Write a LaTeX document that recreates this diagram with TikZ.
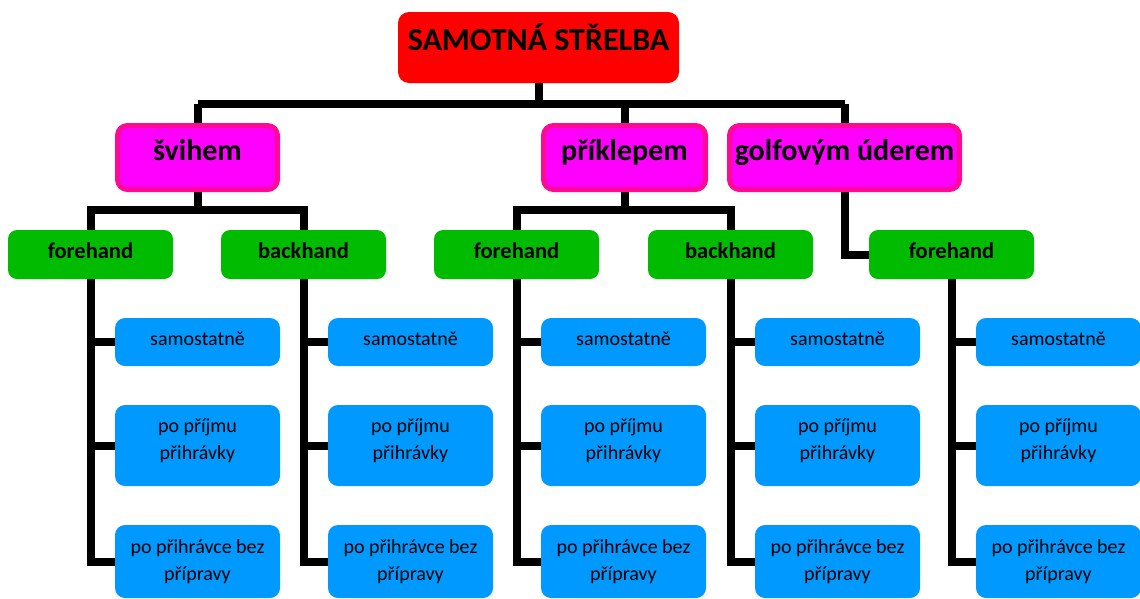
\documentclass[tikz,border=0pt]{standalone}
\usepackage{fontspec}
\setmainfont{Carlito}
\usetikzlibrary{backgrounds}
\definecolor{cred}{RGB}{255,0,0}
\definecolor{cmag}{RGB}{255,0,255}
\definecolor{cmagb}{RGB}{255,10,150}
\definecolor{cgreen}{RGB}{0,187,0}
\definecolor{cblue}{RGB}{0,153,255}
\newcommand\twol[3]{\raisebox{#1}[0pt][0pt]{\begin{tabular}{@{}c@{}}#2\\#3\end{tabular}}}
\begin{document}
\begin{tikzpicture}[x=1pt,y=-1pt,
  titlebox/.style={fill=cred,rounded corners=11pt,minimum width=281pt,minimum height=71pt,inner sep=0pt,text height=15pt,text depth=10pt,font=\fontsize{32}{36}\selectfont\bfseries},
  magbox/.style={fill=cmag,draw=cmagb,line width=5pt,rounded corners=10pt,minimum height=64pt,inner sep=0pt,text height=15pt,text depth=10pt,font=\fontsize{30}{34}\selectfont\bfseries},
  greenbox/.style={fill=cgreen,rounded corners=9pt,minimum width=165pt,minimum height=49pt,inner sep=0pt,text height=14pt,text depth=7pt,font=\fontsize{22.5}{26}\selectfont\bfseries},
  bluebox/.style={fill=cblue,rounded corners=10pt,minimum width=165pt,inner sep=0pt,font=\fontsize{20}{27}\selectfont},
  conn/.style={line width=8pt,draw=black,line join=miter}
]
\useasboundingbox (0,0) rectangle (1140,598);
\node[titlebox] (t) at (538.5,47.5) {SAMOTNÁ STŘELBA};
\node[magbox,minimum width=160pt] (m1) at (197.5,157.5) {švihem};
\node[magbox,minimum width=162pt] (m2) at (624.5,157.5) {příklepem};
\node[magbox,minimum width=230pt] (m3) at (844.5,157.5) {golfovým úderem};
\coordinate (h1) at (0,103.5);
\coordinate (h2) at (0,210);
\foreach \i/\x/\lab in {1/90.5/forehand,2/303.5/backhand,3/516.5/forehand,4/730.5/backhand,5/951.5/forehand}{
  \node[greenbox] (g\i) at (\x,254.5) {\lab};
  \node[bluebox,minimum height=48pt,text height=14pt,text depth=8pt] (b\i a) at (\x+107,342) {samostatně};
  \node[bluebox,minimum height=81pt] (b\i b) at (\x+107,445.5) {\twol{0pt}{po příjmu}{přihrávky}};
  \node[bluebox,minimum height=73pt] (b\i c) at (\x+107,561.5) {\twol{-5pt}{po přihrávce bez}{přípravy}};
}
\begin{scope}[on background layer]
\draw[conn] (t.south) -- (t.south |- h1);
\draw[conn] (m1.north |- h1) -- (m3.north |- h1);
\draw[conn] (m1.north |- h1) -- (m1.north);
\draw[conn] (m2.north |- h1) -- (m2.north);
\draw[conn] (m3.north |- h1) -- (m3.north);
\draw[conn] (m1.south) -- (m1.south |- h2);
\draw[conn] (g1.north) -- (g1.north |- h2) -- (g2.north |- h2) -- (g2.north);
\draw[conn] (m2.south) -- (m2.south |- h2);
\draw[conn] (g3.north) -- (g3.north |- h2) -- (g4.north |- h2) -- (g4.north);
\draw[conn] (m3.south) -- (m3.south |- g5.west) -- (g5.west);
\foreach \i in {1,...,5}{
  \draw[conn] (g\i.south) -- (g\i.south |- b\i c.west) -- (b\i c.west);
  \draw[conn] (g\i.south |- b\i a.west) -- (b\i a.west);
  \draw[conn] (g\i.south |- b\i b.west) -- (b\i b.west);
}
\end{scope}
\end{tikzpicture}
\end{document}
